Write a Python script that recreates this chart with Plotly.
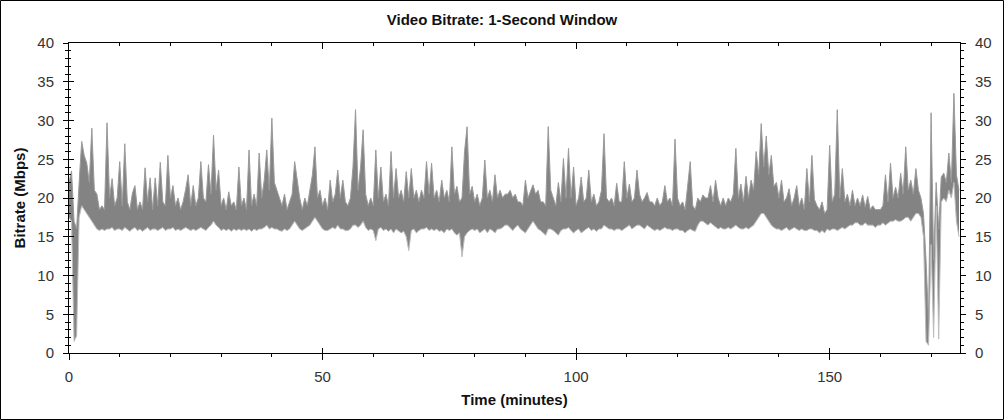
import plotly.graph_objects as go

# Time step of samples (minutes)
step_minutes = 0.5

# Upper envelope of the 1-second bitrate (Mbps), per 0.5-minute slot
bitrate_max = [
    22, 23.5, 17, 16, 22, 27.3, 25.5, 24.5, 22, 29, 21, 20.5, 18.5, 19, 18.5, 29.7, 20, 22.5, 19, 20,
    24.7, 19, 27, 19.5, 18.5, 20.6, 21.6, 18.5, 19.5, 18.5, 23.9, 19.5, 22.6, 18.5, 22.6, 19, 24.6, 19.5, 19, 25.5,
    20, 21.6, 19, 20, 18.5, 19.5, 21.1, 23, 19, 21.6, 19, 20, 24.7, 20, 19.5, 24.3, 20.5, 28.1, 21, 23.6,
    19, 20, 18.5, 20.8, 19, 19.5, 18.5, 24, 19, 20, 18.5, 26.2, 19, 20.5, 19, 25.8, 20, 22.3, 26.2, 21,
    30.3, 22, 21, 20, 19, 20.5, 18.5, 19.5, 20.5, 24.7, 22, 20, 18.5, 20, 19, 21, 23, 26.6, 20, 21,
    19, 20, 18.5, 22.3, 19.5, 20.5, 23.6, 20, 22.3, 19.5, 19, 20, 24, 31.4, 21, 24, 28.8, 20.5, 19, 20,
    19, 26.2, 20, 24, 19.5, 20.5, 19, 26, 20, 23.8, 20, 21, 19.5, 23.4, 20, 23.8, 20, 21, 19.5, 21,
    20, 24.7, 20.5, 24.5, 20, 21, 19.5, 22.3, 20, 21, 19.5, 26.6, 20.5, 21.5, 19.5, 20, 26, 29.2, 20.5, 21.5,
    19.5, 20.5, 19, 20, 24.9, 20, 21, 19.5, 23, 20, 21, 20, 20.5, 20.5, 21, 20, 20.5, 19.5, 19.5, 19,
    22.3, 20, 21, 21.7, 20.5, 21, 19.5, 19.5, 19, 29.2, 21, 20, 19, 22, 19.5, 25.1, 20, 26.4, 20, 24,
    19, 20, 22.7, 19.5, 20, 23.6, 19.5, 20.5, 19, 19.5, 21, 28.3, 20, 19.5, 20, 19, 21.9, 19.5, 19.5, 24.7,
    20, 21.8, 19.5, 20, 23.6, 20.5, 19.5, 20, 20.7, 19.5, 19.5, 19, 20, 19, 19.5, 21.6, 19.5, 20, 19, 27.6,
    20, 19, 19.5, 18.5, 21.9, 24.7, 19, 18.5, 20, 19.5, 20.4, 20, 20, 21.6, 19.5, 22.3, 20, 19, 20, 19,
    20, 19.5, 20.5, 26.4, 20, 21.8, 19.5, 22.8, 20, 22.3, 21, 26, 23, 29.6, 24, 28, 23, 25.5, 21.5, 22,
    20, 22.3, 19.5, 20, 21.2, 19, 20, 21.6, 19, 20, 18.5, 23.8, 19.5, 25.5, 19.8, 19, 18.5, 19.5, 18, 18.5,
    26.8, 19.5, 20.5, 31.4, 20, 23.8, 19.5, 20.5, 19, 21, 19, 20, 19, 20.4, 18.8, 20.2, 18.5, 19, 18.5, 18.5,
    18.5, 19, 23, 19.5, 24.5, 20, 21.4, 20, 23.2, 20.5, 26.6, 21, 22.3, 20.5, 23.8, 21, 20, 18, 12, 4,
    31, 12, 22, 16, 22.7, 23.2, 22, 25.8, 22, 33.5, 23, 21,
]

# Lower envelope of the 1-second bitrate (Mbps), per 0.5-minute slot
bitrate_min = [
    17.5, 17, 1.5, 2.2, 17.5, 19, 18.5, 18, 17.5, 17, 16.5, 16, 15.8, 16, 15.8, 16, 16, 16.2, 15.8, 16,
    16, 15.8, 16.2, 16, 15.7, 16, 16.2, 15.8, 16, 15.7, 16, 16.2, 15.8, 16, 16, 15.8, 16, 16.2, 15.8, 16,
    16, 16.2, 15.8, 16, 15.8, 16, 16.2, 16, 15.8, 16, 15.8, 16, 16.2, 16, 15.8, 16.2, 16.5, 17, 16.5, 16.2,
    15.8, 16, 15.8, 16, 15.7, 16, 15.8, 16, 15.8, 16, 15.8, 16, 15.7, 16, 15.8, 16, 16, 16.2, 16.5, 16,
    16.2, 16, 16, 15.8, 15.7, 16, 15.8, 16, 16.5, 17, 16.5, 16, 15.8, 16, 16.2, 16.5, 17, 17.5, 17, 16.5,
    16, 15.8, 15.8, 16, 16.2, 16, 16.5, 16, 16, 15.8, 15.8, 16, 16.5, 16.5, 16.2, 16.5, 17, 16.2, 15.8, 16,
    15.8, 14.5, 16, 16.2, 15.8, 16, 15.7, 16, 15.5, 16, 15.8, 15.5, 15.7, 15, 13.2, 15.8, 16, 15.5, 15.8, 16,
    16, 16.2, 15.8, 16, 15.8, 16, 15.7, 15.8, 15.5, 16, 15.8, 16, 15.5, 15.2, 15.5, 12.4, 15, 15.5, 15.8, 16,
    15.8, 16, 15.5, 15.8, 16, 15.5, 16, 15.8, 15.5, 16, 16, 16.2, 16.5, 16.5, 16.2, 15.8, 16.2, 16.5, 16, 15.8,
    15.5, 16, 16.5, 17, 16.5, 16, 15.8, 15.5, 15.2, 16, 16, 15.8, 15.5, 15.2, 15.8, 16, 16, 16.2, 15.8, 15.5,
    15.8, 16, 15.5, 15.8, 16, 16.2, 15.8, 16, 15.7, 16, 16, 16.5, 16.2, 16, 16, 15.8, 16, 16, 15.8, 16,
    16.2, 16.5, 16, 16.2, 16.5, 16.5, 16.2, 16, 16.5, 16.2, 16, 15.8, 16, 15.8, 16, 16.2, 16, 16, 15.8, 16,
    16, 15.8, 15.8, 15.5, 15.8, 16, 15.8, 15.7, 16.5, 17, 17, 16.8, 16.5, 16.8, 16.5, 16.2, 16, 16.2, 16, 16,
    16.2, 16, 16.2, 16.5, 16.2, 16, 16, 16.2, 16, 16.2, 16.5, 17, 17.5, 18, 18, 17.5, 17, 16.5, 16.2, 16,
    16, 15.8, 16, 16.2, 15.8, 16, 16.2, 16, 15.8, 16, 15.8, 15.8, 16, 16, 15.8, 15.8, 15.5, 15.8, 15.5, 16,
    15.8, 16, 16, 15.8, 16, 16.2, 16, 16.2, 16.5, 16.5, 16.8, 16.8, 16.5, 16.5, 16.8, 16.5, 16.5, 16.5, 16.2, 16.5,
    16.5, 16.8, 16.5, 16.8, 17, 17, 17.2, 17, 17, 17.2, 17.5, 17.5, 17, 17.5, 18, 18, 17.5, 15, 1.5, 1,
    14, 2, 19, 1.8, 19.5, 20, 19.5, 21, 20, 22, 17, 15,
]
time_min = [i * step_minutes for i in range(len(bitrate_max))]

x_range = [0, 175.7]
y_range = [0, 40]
x_ticks = [0, 50, 100, 150]
y_ticks = [0, 5, 10, 15, 20, 25, 30, 35, 40]

fig = go.Figure()
fig.add_trace(go.Scatter(
    x=time_min, y=bitrate_min, mode="lines",
    line=dict(color="#bdbdbd", width=1),
    showlegend=False, hoverinfo="x+y",
))
fig.add_trace(go.Scatter(
    x=time_min, y=bitrate_max, mode="lines",
    line=dict(color="#9a9a9a", width=1), fill="tonexty", fillcolor="#838383",
    showlegend=False, hoverinfo="x+y",
))
# invisible helper traces so that the mirror axes are drawn
for xa, ya in [("x", "y2"), ("x", "y3"), ("x2", "y"), ("x3", "y")]:
    fig.add_trace(go.Scatter(x=time_min[:2], y=bitrate_max[:2], xaxis=xa, yaxis=ya,
                             mode="lines", line=dict(width=0), opacity=0,
                             showlegend=False, hoverinfo="skip"))

FONT = "Liberation Sans, Arial, sans-serif"
tick_font = dict(family=FONT, size=15, color="#333333")
title_font = dict(family=FONT, size=15, color="#111111")

common_y = dict(range=y_range, tickvals=y_ticks, showgrid=False, zeroline=False,
                linecolor="black", linewidth=1, tickcolor="black", ticklen=5,
                minor=dict(dtick=1, ticklen=3, tickcolor="black", ticks="outside"),
                tickfont=tick_font, ticklabelstandoff=6)
common_x = dict(range=x_range, tickvals=x_ticks, showgrid=False, zeroline=False,
                linecolor="black", linewidth=1, tickcolor="black", ticklen=6,
                minor=dict(dtick=10, tick0=0, ticklen=3, tickcolor="black", ticks="outside"),
                tickfont=tick_font)

fig.update_layout(
    width=1004, height=420,
    margin=dict(l=69, r=44, t=43, b=67),
    paper_bgcolor="white", plot_bgcolor="white",
    title=dict(text="<b>Video Bitrate: 1-Second Window</b>", x=0.5, xanchor="center",
               y=0.952, yanchor="middle", font=dict(family=FONT, size=15, color="#111111")),
    xaxis=dict(**common_x, ticks="outside", ticklabelstandoff=4,
               title=dict(text="<b>Time (minutes)</b>", font=title_font, standoff=10)),
    xaxis2=dict(range=x_range, overlaying="x", side="top", showgrid=False, zeroline=False,
                tickvals=x_ticks, ticks="inside", ticklen=6, tickcolor="black",
                minor=dict(dtick=10, tick0=0, ticklen=3, tickcolor="black", ticks="inside"),
                showticklabels=False, linecolor="black", linewidth=1, anchor="y"),
    xaxis3=dict(range=x_range, overlaying="x", side="bottom", showgrid=False, zeroline=False,
                tickvals=x_ticks, ticks="inside", ticklen=5, tickcolor="black",
                minor=dict(dtick=10, tick0=0, ticklen=0, tickcolor="black", ticks="inside"),
                showticklabels=False, showline=False, anchor="y"),
    yaxis=dict(**common_y, ticks="outside",
               title=dict(text="<b>Bitrate (Mbps)</b>", font=title_font, standoff=8)),
    yaxis2=dict(**common_y, overlaying="y", side="right", ticks="outside", anchor="x"),
    yaxis3=dict(range=y_range, tickvals=y_ticks, overlaying="y", side="left", ticks="inside",
                ticklen=5, tickcolor="black", showgrid=False, zeroline=False,
                minor=dict(dtick=1, ticklen=2, tickcolor="black", ticks="inside"),
                showticklabels=False, showline=False, anchor="x"),
)

# outer black frame around the whole image
pw, ph = 1004 - 69 - 44, 420 - 43 - 67
fig.add_shape(type="rect", xref="paper", yref="paper",
              x0=-68.5 / pw, x1=1 + 43.5 / pw, y0=-66.5 / ph, y1=1 + 42.5 / ph,
              line=dict(color="black", width=1), fillcolor="rgba(0,0,0,0)", layer="above")

fig.write_html("out.html", config={"displayModeBar": False},
               post_script="document.body.style.margin='0';")
